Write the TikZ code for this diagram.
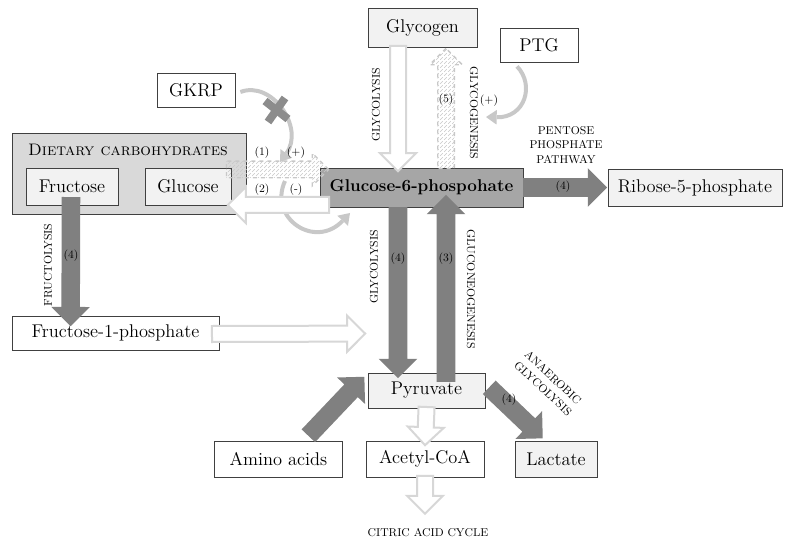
\documentclass[tikz,border=0pt]{standalone}
\usetikzlibrary{calc,shapes.arrows,patterns,arrows.meta}

\definecolor{boxline}{RGB}{64,64,64}
\definecolor{lightbox}{RGB}{242,242,242}
\definecolor{dietgray}{RGB}{217,217,217}
\definecolor{g6pgray}{RGB}{166,166,166}
\definecolor{darkarrow}{RGB}{128,128,128}
\definecolor{hollowline}{RGB}{215,215,215}
\definecolor{hatchline}{RGB}{200,200,200}
\definecolor{loopgray}{RGB}{200,200,200}
\definecolor{crossgray}{RGB}{140,140,140}

\tikzset{
  sz/.style 2 args={minimum width=#1*0.75pt,minimum height=#2*0.75pt},
  box/.style={draw=boxline,line width=0.6pt,inner sep=0pt,font=\fontsize{13.8}{16}\selectfont},
  lbox/.style={box,fill=lightbox},
  flow/.style={single arrow,inner xsep=0pt,single arrow tip angle=90,anchor=tip},
  darkflow/.style={flow,fill=darkarrow,inner ysep=6.75pt,single arrow head extend=7.5pt},
  hollow/.style={flow,fill=white,draw=hollowline,line width=1.5pt,inner ysep=5.25pt,single arrow head extend=7.5pt},
  hatched/.style={flow,draw=hatchline,dashed,line width=1pt,pattern=north east lines,pattern color=hatchline,inner ysep=5.75pt,single arrow head extend=6pt},
  tag/.style={font=\fontsize{8.5}{11}\selectfont,inner sep=1pt},
  num/.style={font=\fontsize{8.5}{10}\selectfont,inner sep=1pt},
  loop/.style={draw=loopgray,line width=3pt,-{Triangle[width=11pt,length=8pt,line width=0pt]}},
  xbar/.style={draw=crossgray,line width=6pt},
}

% block arrow between two points: [style]{name}{from}{to}
\newcommand\flow[4][]{%
  \coordinate (#2s) at #3;
  \coordinate (#2e) at #4;
  \path let \p1=(#2s), \p2=(#2e) in
    node[#1,minimum height={veclen(\x2-\x1,\y2-\y1)},rotate={-atan2(\y2-\y1,\x2-\x1)}] (#2) at (#2e) {};}

\begin{document}
\begin{tikzpicture}[x=0.75pt,y=0.75pt,yscale=-1,xscale=1]
\useasboundingbox (0,0) rectangle (795,548);

%Shape: Rectangle
\node[box,fill=dietgray,sz={234}{81}] (diet) at (129,173.5) {};
\node[font=\fontsize{12.5}{14}\selectfont,inner sep=0pt] (diettitle) at (128,150) {\textsc{Dietary carbohydrates}};
\node[lbox,sz={92}{37}] (fru) at (72,186.5) {Fructose};
\node[lbox,sz={86}{37}] (glu) at (188,186.5) {Glucose};
\node[box,fill=g6pgray,sz={203}{39},font=\fontsize{12.8}{15}\selectfont\bfseries] (g6p) at (421.5,187.5) {Glucose-6-phospohate};
\node[lbox,sz={109}{39}] (glyc) at (422.5,27.5) {Glycogen};
\node[box,fill=white,sz={78}{34}] (ptg) at (539,45) {PTG};
\node[box,fill=white,sz={78}{34}] (gkrp) at (196,90) {GKRP};
\node[lbox,sz={174}{37}] (rib) at (695,187.5) {Ribose-5-phosphate};
\node[box,fill=white,sz={207}{34}] (f1p) at (115.5,333) {Fructose-1-phosphate};
\node[lbox,sz={117}{35}] (pyr) at (426.5,390.5) {Pyruvate};
\node[box,fill=white,sz={128}{36}] (amino) at (278.5,459) {Amino acids};
\node[box,fill=white,sz={118}{36}] (acoa) at (425,459) {Acetyl-CoA};
\node[lbox,sz={82}{36}] (lac) at (556,459) {Lactate};
% Text Node
\node[tag] (citric) at (428,533) {CITRIC ACID CYCLE};

%Curves
\coordinate (gkrpend) at (280,162);
\coordinate (g6pfoot) at (350,213);
\coordinate (ptgend) at (486,117);
\draw[loop] ($(gkrp.east)+(5,2)$) .. controls (272,80) and (305,128) .. (gkrpend);
\draw[loop] (285,181) .. controls (268,218) and (315,250) .. (g6pfoot);
\draw[loop] ($(ptg.south)+(-22,4)$) .. controls (535,85) and (525,118) .. (ptgend);
% cross on the GKRP curve
\draw[xbar] (265,101) -- (288,119);
\draw[xbar] (268,122) -- (285,98);

%Straight Lines
\flow[darkflow]{fructolysis}{($(fru.south)+(-1,-8)$)}{($(f1p.north west)+(59,11)$)}
\flow[darkflow]{glycolysis}{($(g6p.south)+(-23.5,0)$)}{($(pyr.north)+(-28.5,6)$)}
\flow[darkflow]{gluconeo}{($(pyr.north)+(19.5,9)$)}{($(g6p.south)+(24.5,-13)$)}
\flow[darkflow]{pentose}{(g6p.east)}{(rib.west)}
\flow[darkflow]{anaerobic}{($(pyr.east)+(4,-3)$)}{($(lac.north)+(-13,-2)$)}
\flow[darkflow]{aminoflow}{($(amino.north)+(30,-5)$)}{($(pyr.west)+(-3,-14)$)}
\flow[hollow]{f1pflow}{($(f1p.east)+(-6,1)$)}{($(pyr.north west)+(-1,-39)$)}
\flow[hollow]{glycflow}{($(glyc.south)+(-24.5,0)$)}{($(g6p.north)+(-23.5,5)$)}
\flow[hollow]{backflow}{($(g6p.west)+(8,17.5)$)}{($(glu.east)+(-5,18.5)$)}
\flow[hollow]{acoaflow}{(pyr.south)}{($(acoa.north)+(0,6)$)}
\flow[hollow]{citricflow}{(acoa.south)}{($(citric.north)+(-3,-12)$)}
\flow[hatched]{glycogenesis}{($(g6p.north)+(24.5,0)$)}{($(glyc.south)+(23.5,0)$)}
\flow[hatched]{uptake}{($(glu.east)+(-4,-17)$)}{($(g6p.west)+(10,-18)$)}

% Text Node
\node[num] (n1) at (262,153) {(1)};
\node[num] (p1) at (296,153) {(+)};
\node[num] (n2) at (262,190) {(2)};
\node[num] (m2) at (296,190) {(-)};
\node[tag,rotate=90] (tfru) at (48,265) {FRUCTOLYSIS};
\node[num] (nfru) at (71,256) {(4)};
\node[tag,rotate=90] (tgly) at (374,267) {GLYCOLYSIS};
\node[num] (ngly) at (398,259) {(4)};
\node[tag,rotate=-90] (tgng) at (471,289) {GLUCONEOGENESIS};
\node[num] (ngng) at (446,259) {(3)};
\node[tag,rotate=90] (tglyc) at (376,105) {GLYCOLYSIS};
\node[num] (n5) at (446,100) {(5)};
\node[tag,rotate=-90] (tgen) at (474,113) {GLYCOGENESIS};
\node[num] (p5) at (489,101) {(+)};
\node[tag,align=center] (tppp) at (566,145) {PENTOSE\\PHOSPHATE\\PATHWAY};
\node[num] (nppp) at (563,187) {(4)};
\node[tag,align=center,rotate=-43] (tana) at (548,383) {ANAEROBIC\\GLYCOLYSIS};
\node[num] (nana) at (509,400) {(4)};
\end{tikzpicture}
\end{document}
